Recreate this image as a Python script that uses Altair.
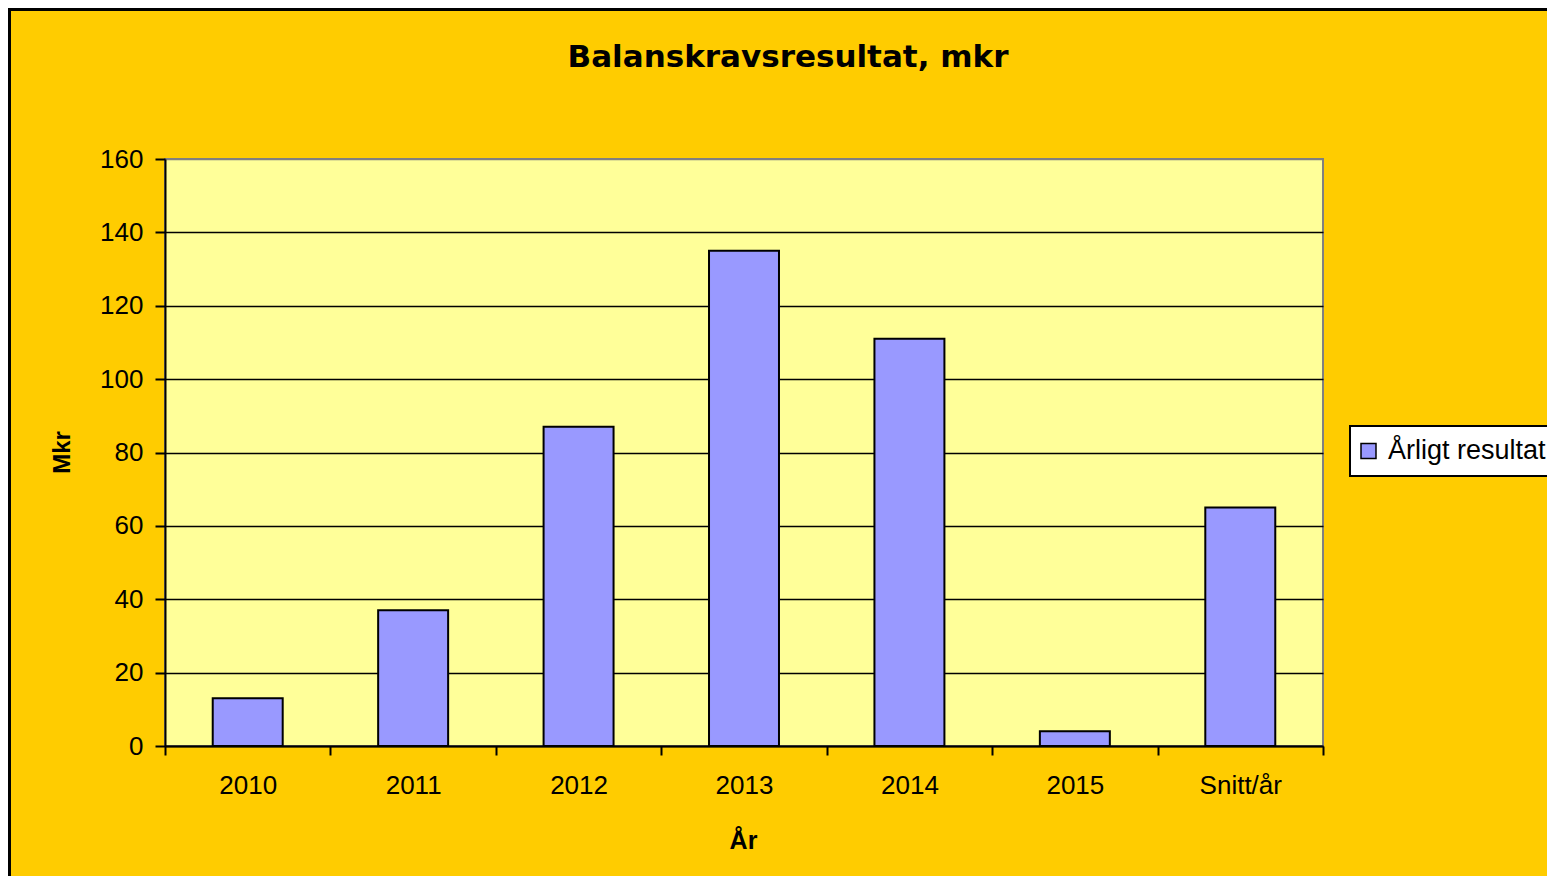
import altair as alt
import pandas as pd

categories = ["2010", "2011", "2012", "2013", "2014", "2015", "Snitt/år"]
values = [13, 37, 87, 135, 111, 4, 65]
series_name = "Årligt resultat"
y_ticks = [0, 20, 40, 60, 80, 100, 120, 140, 160]
chart_title = "Balanskravsresultat, mkr"

df = pd.DataFrame({"År": categories, "Mkr": values, "serie": [series_name] * len(categories)})
title_df = pd.DataFrame({"t": [chart_title]})

FONT = "Liberation Sans"

bars = alt.Chart(df).mark_bar(stroke="black", strokeWidth=2, width=alt.RelativeBandSize(0.423)).encode(
    x=alt.X(
        "År:N",
        sort=categories,
        scale=alt.Scale(paddingInner=0, paddingOuter=0),
        axis=alt.Axis(
            title="År",
            labelAngle=0,
            tickBand="extent",
            tickSize=9,
            tickWidth=2,
            tickColor="black",
            domainColor="black",
            domainWidth=2,
            labelFont=FONT,
            labelFontSize=26,
            labelColor="black",
            labelBaseline="alphabetic",
            labelPadding=38,
            titleFont=FONT,
            titleFontSize=25,
            titleFontWeight="bold",
            titleColor="black",
            titleBaseline="alphabetic",
            titleX=578,
            titleY=102,
            titleAnchor="middle",
            grid=False,
        ),
    ),
    y=alt.Y(
        "Mkr:Q",
        scale=alt.Scale(domain=[0, 160], nice=False),
        axis=alt.Axis(
            title="Mkr",
            values=y_ticks,
            tickSize=10,
            tickWidth=2,
            tickColor="black",
            domainColor="black",
            domainWidth=2,
            labelFont=FONT,
            labelFontSize=26,
            labelColor="black",
            labelPadding=12,
            titleFont=FONT,
            titleFontSize=24,
            titleFontWeight="bold",
            titleColor="black",
            titleAngle=-90,
            titleBaseline="middle",
            titleAlign="center",
            titleX=-103,
            titleY=293,
            grid=True,
            gridColor={"condition": {"test": "datum.value == 160", "value": "#808080"}, "value": "black"},
            gridWidth=1.5,
        ),
    ),
    color=alt.Color(
        "serie:N",
        scale=alt.Scale(range=["#9999FF"]),
        legend=alt.Legend(
            title=None,
            orient="none",
            legendX=1185,
            legendY=267,
            fillColor="white",
            strokeColor="black",
            padding=5,
            clipHeight=40,
            symbolType="square",
            symbolSize=225,
            symbolStrokeColor="black",
            symbolStrokeWidth=1.5,
            symbolFillColor="#9999FF",
            symbolOpacity=1,
            labelFont=FONT,
            labelFontSize=27,
            labelColor="black",
            labelOffset=6,
            labelLimit=400,
        ),
    ),
)

title_mark = alt.Chart(title_df).mark_text(
    font="DejaVu Sans", fontSize=31, fontWeight="bold", color="black",
    align="center", baseline="alphabetic",
).encode(text="t:N", x=alt.value(623), y=alt.value(-92))

frame = alt.Chart(title_df).mark_rect(fill="#FFCC00", fillOpacity=0, stroke="black", strokeWidth=3).encode(
    x=alt.value(-155.5), x2=alt.value(1500), y=alt.value(-149.5), y2=alt.value(900)
)

chart = alt.layer(bars, title_mark, frame).properties(
    width=1158,
    height=587,
    autosize=alt.AutoSizeParams(type="none"),
    padding={"left": 157, "top": 151, "right": 224, "bottom": 130},
    background="#FFCC00",
).configure_view(
    fill="#FFFF99", stroke="#808080", strokeWidth=2
).configure_legend(strokeWidth=2)

chart.save("out.html", embed_options={"renderer": "svg", "actions": False})
